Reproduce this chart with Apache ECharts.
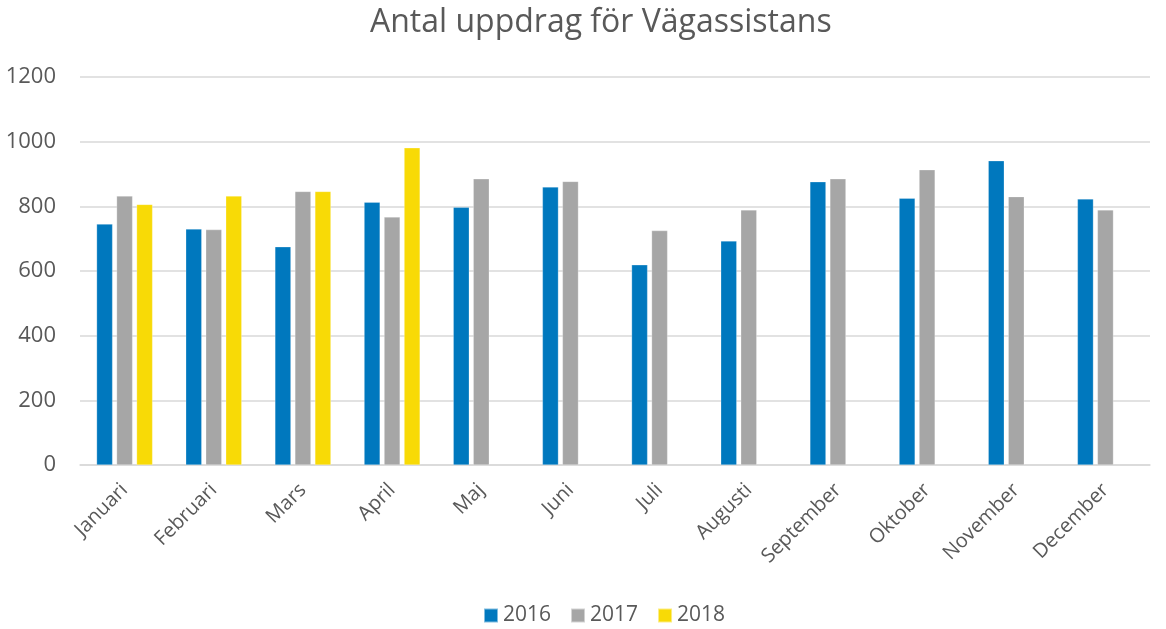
<!DOCTYPE html>
<html>
<head>
<meta charset="utf-8">
<script src="https://cdn.jsdelivr.net/npm/echarts@6/dist/echarts.min.js"></script>
<style>html,body{margin:0;padding:0;background:#fff}#c{width:1166px;height:629px}</style>
</head>
<body>
<div id="c"></div>
<script>
const months = ['Januari','Februari','Mars','April','Maj','Juni','Juli','Augusti','September','Oktober','November','December'];
const s2016 = [745, 730, 675, 813, 797, 860, 619, 693, 876, 825, 941, 823];
const s2017 = [832, 728, 846, 767, 885, 877, 725, 789, 885, 913, 830, 789];
const s2018 = [806, 832, 846, 981, null, null, null, null, null, null, null, null];
const yTicks = [0, 200, 400, 600, 800, 1000, 1200];

const font = 'Open Sans';
const chart = echarts.init(document.getElementById('c'));
const bar = (name, data, color) => ({
  name, type: 'bar', data, barWidth: 16, barGap: '25%',
  itemStyle: { color, borderColor: 'rgba(255,255,255,0.5)', borderWidth: 0.5 }
});
chart.setOption({
  animation: false,
  title: { text: 'Antal uppdrag för Vägassistans', left: 365, top: 2,
    textStyle: { fontFamily: font, fontSize: 32, fontWeight: 'normal', color: '#595959' } },
  grid: { left: 80, right: 16, top: 77, bottom: 164 },
  legend: { top: 600, left: 478, itemWidth: 14, itemHeight: 14, itemGap: 19,
    icon: 'rect', textStyle: { fontFamily: font, fontSize: 21, color: '#595959' } },
  xAxis: { type: 'category', data: months,
    axisLine: { lineStyle: { color: '#D9D9D9', width: 1.5 } },
    axisTick: { show: false },
    axisLabel: { rotate: 45, fontFamily: font, fontSize: 20, color: '#595959', margin: 22, interval: 0 } },
  yAxis: { type: 'value', min: yTicks[0], max: yTicks[yTicks.length-1], interval: 200,
    axisLine: { show: false }, axisTick: { show: false },
    splitLine: { lineStyle: { color: '#D9D9D9', width: 1.5 } },
    axisLabel: { fontFamily: font, fontSize: 22, color: '#595959', margin: 24, formatter: v => String(v) } },
  series: [bar('2016', s2016, '#0078BE'), bar('2017', s2017, '#A6A6A6'), bar('2018', s2018, '#F8DA06')]
});
</script>
</body>
</html>
